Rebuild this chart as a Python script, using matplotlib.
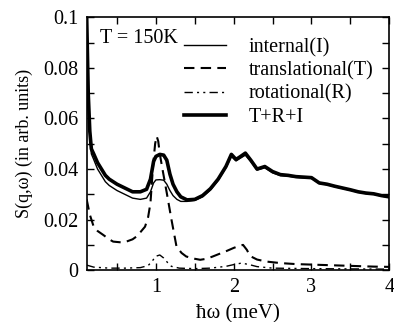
import numpy as np
import matplotlib
matplotlib.use("Agg")
import matplotlib.pyplot as plt
from matplotlib.ticker import MultipleLocator, FixedLocator

plt.rcParams['font.family'] = ['Liberation Serif', 'DejaVu Serif']
plt.rcParams['mathtext.fontset'] = 'stix'

# total T+R+I and internal share one energy grid
x_tot = [0.11, 0.12, 0.13, 0.15, 0.17, 0.2, 0.25, 0.3, 0.35, 0.4, 0.5, 0.6, 0.7, 0.8,
         0.88, 0.93, 0.97, 1.0, 1.05, 1.1, 1.14, 1.18, 1.22, 1.27, 1.32, 1.4, 1.5, 1.6,
         1.7, 1.8, 1.9, 1.97, 2.03, 2.08, 2.15, 2.22, 2.3, 2.4, 2.5, 2.6, 2.7, 2.8, 2.9,
         3.0, 3.1, 3.2, 3.3, 3.4, 3.5, 3.6, 3.7, 3.8, 3.9, 4.0]
total = [0.1, 0.085, 0.07, 0.055, 0.048, 0.046, 0.0425, 0.040, 0.0375, 0.036, 0.034,
         0.0325, 0.031, 0.031, 0.032, 0.036, 0.043, 0.045, 0.0458, 0.0455, 0.0435, 0.038,
         0.034, 0.031, 0.029, 0.0278, 0.028, 0.0295, 0.0322, 0.036, 0.041, 0.0458, 0.0438,
         0.0448, 0.0463, 0.0435, 0.040, 0.041, 0.039, 0.0378, 0.0375, 0.037, 0.0368,
         0.0366, 0.0345, 0.034, 0.0332, 0.0325, 0.0318, 0.031, 0.0305, 0.0302, 0.0295, 0.029]
internal = [0.098, 0.083, 0.068, 0.053, 0.046, 0.0438, 0.040, 0.0375, 0.035, 0.0335,
            0.0315, 0.030, 0.0285, 0.028, 0.0285, 0.031, 0.0345, 0.0357, 0.0358, 0.0356,
            0.034, 0.0315, 0.0295, 0.028, 0.0272, 0.0272, 0.0276, 0.029, 0.0317, 0.0355,
            0.0405, 0.045, 0.0432, 0.0442, 0.0455, 0.043, 0.0396, 0.0405, 0.0385, 0.0374,
            0.0372, 0.0367, 0.0365, 0.0363, 0.0343, 0.0338, 0.033, 0.0323, 0.0316, 0.0308,
            0.0303, 0.03, 0.0293, 0.0288]

x_tr = [0.11, 0.15, 0.2, 0.25, 0.32, 0.4, 0.45, 0.55, 0.62, 0.7, 0.75, 0.8, 0.86, 0.9,
        0.93, 0.965, 0.99, 1.01, 1.03, 1.05, 1.09, 1.14, 1.2, 1.265, 1.33, 1.39, 1.5, 1.57,
        1.65, 1.73, 1.82, 1.91, 2.0, 2.06, 2.12, 2.17, 2.21, 2.3, 2.42, 2.6, 2.8, 3.0, 3.2,
        3.4, 3.6, 3.8, 4.0]
transl = [0.028, 0.022, 0.0172, 0.0155, 0.014, 0.0122, 0.0113, 0.011, 0.0113, 0.0122,
          0.0133, 0.015, 0.0172, 0.021, 0.0266, 0.042, 0.05, 0.053, 0.051, 0.046, 0.039,
          0.0305, 0.02, 0.0093, 0.0068, 0.0054, 0.0045, 0.0041, 0.0045, 0.0054, 0.0065,
          0.0076, 0.0088, 0.0095, 0.010, 0.008, 0.0056, 0.0042, 0.0034, 0.0028, 0.0024,
          0.0022, 0.002, 0.0018, 0.0016, 0.0014, 0.0013]

x_rot = [0.11, 0.2, 0.4, 0.6, 0.8, 0.9, 0.95, 1.0, 1.05, 1.1, 1.15, 1.2, 1.3, 1.5, 1.7,
         1.9, 2.0, 2.1, 2.2, 2.3, 2.5, 3.0, 3.5, 4.0]
rot = [0.002, 0.0012, 0.0008, 0.0008, 0.001, 0.0018, 0.0035, 0.0055, 0.006, 0.0048,
       0.003, 0.0015, 0.0008, 0.0006, 0.0008, 0.0015, 0.0022, 0.0028, 0.0022, 0.0014,
       0.0008, 0.0006, 0.0005, 0.0004]

ytick_vals = [0, 0.02, 0.04, 0.06, 0.08, 0.1]
ytick_labels = ['0', '0.02', '0.04', '0.06', '0.08', '0.1']
xtick_vals = [1, 2, 3, 4]

fig = plt.figure(figsize=(3.94, 3.22), dpi=100)
ax = fig.add_axes([0.22, 0.161, 0.768, 0.785])

ax.plot(x_tot, internal, color='black', lw=1.0, label='internal(I)')
ax.plot(x_tr, transl, color='black', lw=1.5, linestyle=(0, (5, 3)), label='translational(T)')
ax.plot(x_rot, rot, color='black', lw=1.0, linestyle=(0, (6, 3, 1.5, 3, 1.5, 3)),
        label='rotational(R)')
ax.plot(x_tot, total, color='black', lw=2.6, label='T+R+I')

ax.set_xlim(0.11, 4)
ax.set_ylim(0, 0.1)
ax.set_xticks(xtick_vals)
ax.set_xticklabels([str(v) for v in xtick_vals])
ax.xaxis.set_minor_locator(MultipleLocator(0.5))
ax.set_yticks(ytick_vals)
ax.set_yticklabels(ytick_labels)
ax.yaxis.set_minor_locator(MultipleLocator(0.01))
ax.tick_params(which='both', direction='in', top=True, right=True, labelsize=14.5,
               width=1.0, pad=6)
ax.tick_params(which='major', length=5)
ax.tick_params(which='minor', length=5)
for s in ax.spines.values():
    s.set_linewidth(1.2)

ax.set_xlabel('ħω (meV)', fontsize=15, labelpad=4.5)
ax.set_ylabel('S(q,ω) (in arb. units)', fontsize=13, labelpad=7)

ax.text(0.045, 0.915, 'T = 150K', transform=ax.transAxes, fontsize=14.5, va='center')

ax.legend(loc='upper right', bbox_to_anchor=(0.96, 0.935), frameon=False, fontsize=14.5,
          handlelength=2.1, handletextpad=1.1, labelspacing=0.2, borderpad=0.1,
          borderaxespad=0.1)

fig.savefig('out.png', dpi=100)
